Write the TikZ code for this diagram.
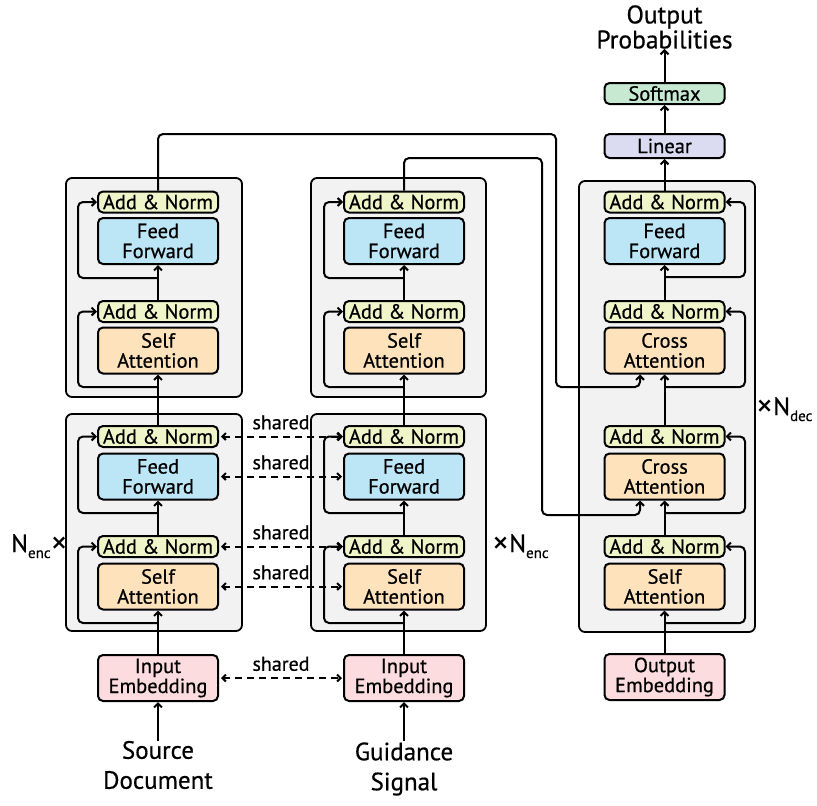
\documentclass[tikz,border=0pt]{standalone}
\usepackage{fontspec}
\setmainfont{PT Sans}[FakeBold=0.6]
\newfontfamily\thinfont{PT Sans}
\usetikzlibrary{arrows.meta,calc}
\definecolor{cAN}{HTML}{EFF5C8}
\definecolor{cFF}{HTML}{BCE5F6}
\definecolor{cAT}{HTML}{FDE2BB}
\definecolor{cEM}{HTML}{FCDCDF}
\definecolor{cLI}{HTML}{DBDCF1}
\definecolor{cSM}{HTML}{C7E9D2}
\definecolor{cGR}{HTML}{F2F2F2}
\newcommand{\bigx}{\raisebox{-2pt}{\scalebox{1.35}{\thinfont ×}}}
\begin{document}
\begin{tikzpicture}[x=1pt,y=-1pt,
  blk/.style={draw, line width=2pt, rounded corners=5pt, minimum width=120pt, align=center, inner sep=0pt, font=\fontsize{20.5}{20}\selectfont},
  anbox/.style={blk, fill=cAN, minimum height=21pt},
  ffbox/.style={blk, fill=cFF, minimum height=46pt},
  attbox/.style={blk, fill=cAT, minimum height=46pt},
  embox/.style={blk, fill=cEM, minimum height=46pt},
  grp/.style={draw, line width=1.8pt, fill=cGR, rounded corners=6pt},
  wire/.style={line width=2pt, rounded corners=5pt},
  arr/.style={wire, -{Straight Barb[length=4pt,width=8pt]}},
  shr/.style={line width=2pt, dash pattern=on 7pt off 5pt, {Straight Barb[length=3.5pt,width=7pt]}-{Straight Barb[length=3.5pt,width=7pt]}, shorten <=2pt, shorten >=1pt},
  lbl/.style={font=\fontsize{20}{20}\selectfont, inner sep=0pt, above=6pt},
  bigtxt/.style={align=center, inner sep=0pt, font=\fontsize{25}{30}\selectfont},
  nlab/.style={inner sep=0pt, anchor=base west, font=\fontsize{25}{25}\selectfont}
]
\useasboundingbox (0,0) rectangle (817,806);

% groups
\draw[grp] (66,178) rectangle (242,397);
\draw[grp] (66,414) rectangle (242,631);
\draw[grp] (311,178) rectangle (486,397);
\draw[grp] (311,414) rectangle (486,631);
\draw[grp] (579,181) rectangle (755,632);

% left encoder
\node[anbox] (L1an) at (158,202) {Add \& Norm};
\node[ffbox] (L1ff) at (158,241) {Feed\\Forward};
\node[anbox] (L1an2) at (158,311.5) {Add \& Norm};
\node[attbox] (L1sa) at (158,350.5) {Self\\Attention};
\node[anbox] (L0an) at (158,436.5) {Add \& Norm};
\node[ffbox] (L0ff) at (158,476.5) {Feed\\Forward};
\node[anbox] (L0an2) at (158,546.5) {Add \& Norm};
\node[attbox] (L0sa) at (158,586.5) {Self\\Attention};
\node[embox] (Lem) at (158,678) {Input\\Embedding};
\node[bigtxt] (Lsrc) at (158,765) {Source\\Document};

% middle encoder
\node[anbox] (M1an) at (404,202) {Add \& Norm};
\node[ffbox] (M1ff) at (404,241) {Feed\\Forward};
\node[anbox] (M1an2) at (404,311.5) {Add \& Norm};
\node[attbox] (M1sa) at (404,350.5) {Self\\Attention};
\node[anbox] (M0an) at (404,436.5) {Add \& Norm};
\node[ffbox] (M0ff) at (404,476.5) {Feed\\Forward};
\node[anbox] (M0an2) at (404,546.5) {Add \& Norm};
\node[attbox] (M0sa) at (404,586.5) {Self\\Attention};
\node[embox] (Mem) at (404,678) {Input\\Embedding};
\node[bigtxt] (Msrc) at (404,769) {Guidance\\Signal};

% decoder
\node[anbox] (Dan1) at (664.5,202) {Add \& Norm};
\node[ffbox] (Dff) at (664.5,241) {Feed\\Forward};
\node[anbox] (Dan1b) at (664.5,311.5) {Add \& Norm};
\node[attbox] (Dca1) at (664.5,350.5) {Cross\\Attention};
\node[anbox] (Dan0) at (664.5,436.5) {Add \& Norm};
\node[attbox] (Dca0) at (664.5,476.5) {Cross\\Attention};
\node[anbox] (Dan0b) at (664.5,546.5) {Add \& Norm};
\node[attbox] (Dsa) at (664.5,586.5) {Self\\Attention};
\node[embox] (Dem) at (664.5,677) {Output\\Embedding};
\node[blk, fill=cLI, minimum height=24pt] (Dli) at (664.5,146) {Linear};
\node[blk, fill=cSM, minimum height=21pt] (Dsm) at (664.5,93.5) {Softmax};
\node[bigtxt, font=\fontsize{25.5}{25}\selectfont] (Dout) at (664.5,27) {Output\\Probabilities};

% left connectors
\coordinate (Lr0) at (158,623);
\coordinate (Lr1) at (158,513);
\coordinate (Lr2) at (158,387);
\coordinate (Lr3) at (158,278);
\draw[arr] (Lsrc.north) -- (Lem.south);
\draw[arr] (Lem.north) -- (L0sa.south);
\draw[arr] (Lr0) -- (78,623) |- (L0an2.west);
\draw[arr] (L0an2.north) -- (L0ff.south);
\draw[arr] (Lr1) -- (78,513) |- (L0an.west);
\draw[arr] (L0an.north) -- (L1sa.south);
\draw[arr] (Lr2) -- (78,387) |- (L1an2.west);
\draw[arr] (L1an2.north) -- (L1ff.south);
\draw[arr] (Lr3) -- (78,278) |- (L1an.west);

% middle connectors
\coordinate (Mr0) at (404,623);
\coordinate (Mr1) at (404,513);
\coordinate (Mr2) at (404,387);
\coordinate (Mr3) at (404,278);
\draw[arr] (Lsrc.north -| Msrc.north) -- (Mem.south);
\draw[arr] (Mem.north) -- (M0sa.south);
\draw[arr] (Mr0) -- (324,623) |- (M0an2.west);
\draw[arr] (M0an2.north) -- (M0ff.south);
\draw[arr] (Mr1) -- (324,513) |- (M0an.west);
\draw[arr] (M0an.north) -- (M1sa.south);
\draw[arr] (Mr2) -- (324,387) |- (M1an2.west);
\draw[arr] (M1an2.north) -- (M1ff.south);
\draw[arr] (Mr3) -- (324,278) |- (M1an.west);

% decoder connectors
\coordinate (Dr0) at (664.5,623);
\coordinate (Dr1) at (664.5,513);
\coordinate (Dr2) at (664.5,387);
\coordinate (Dr3) at (664.5,277);
\draw[arr] (Dem.north) -- (Dsa.south);
\draw[arr] (Dr0) -- (745,623) |- (Dan0b.east);
\draw[arr] (Dan0b.north) -- (Dca0.south);
\draw[arr] (Dr1) -- (745,513) |- (Dan0.east);
\draw[arr] (Dan0.north) -- (Dca1.south);
\draw[arr] (Dr2) -- (745,387) |- (Dan1b.east);
\draw[arr] (Dan1b.north) -- (Dff.south);
\draw[arr] (Dr3) -- (745,277) |- (Dan1.east);
\draw[arr] (Dan1.north) -- (Dli.south);
\draw[arr] (Dli.north) -- (Dsm.south);
\draw[arr] (Dsm.north) -- (Dout.south);

% encoder outputs to decoder
\draw[arr] (L1an.north) -- (158,134) -- (556,134) -- (556,387) -- (640,387) -- ($(Dca1.south)+(-24.5,0)$);
\draw[arr] (M1an.north) -- (404,158) -- (542,158) -- (542,515) -- (640,515) -- ($(Dca0.south)+(-24.5,0)$);

% shared
\draw[shr] (L0an.east) -- node[lbl] {shared} (M0an.west);
\draw[shr] (L0ff.east) -- node[lbl] {shared} (M0ff.west);
\draw[shr] (L0an2.east) -- node[lbl] {shared} (M0an2.west);
\draw[shr] (L0sa.east) -- node[lbl] {shared} (M0sa.west);
\draw[shr] (Lem.east) -- node[lbl] {shared} (Mem.west);

% repetition labels
\node[nlab] (NL) at (11,552) {N\raisebox{-6pt}{\fontsize{15}{15}\selectfont enc}\bigx};
\node[nlab] (NM) at (492,552) {\bigx N\raisebox{-6pt}{\fontsize{15}{15}\selectfont enc}};
\node[nlab] (ND) at (756,415) {\bigx N\raisebox{-6pt}{\fontsize{15}{15}\selectfont dec}};
\end{tikzpicture}
\end{document}
